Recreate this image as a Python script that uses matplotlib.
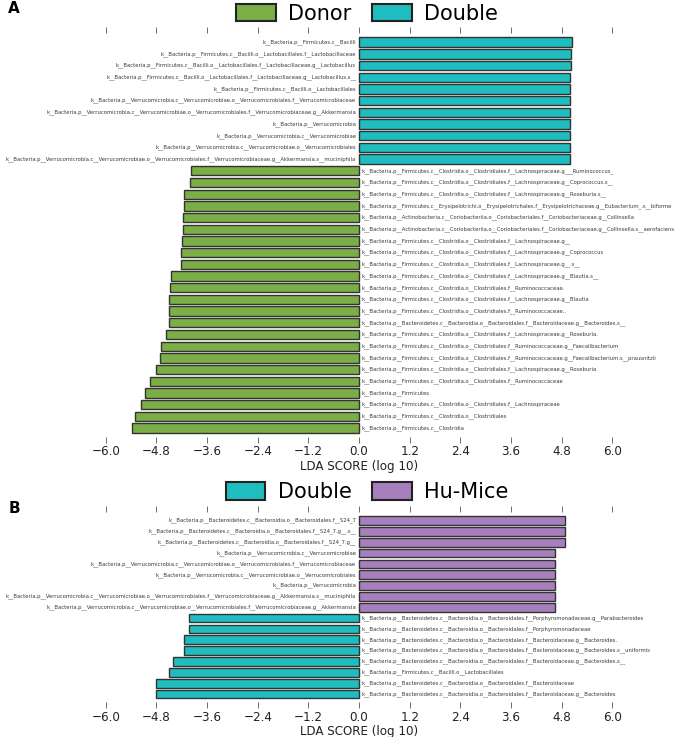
import matplotlib
matplotlib.use('Agg')
import matplotlib.pyplot as plt
from matplotlib.patches import Patch

# panel A, rows listed top to bottom
labelsA = ['k__Bacteria.p__Firmicutes.c__Bacilli',
           'k__Bacteria.p__Firmicutes.c__Bacilli.o__Lactobacillales.f__Lactobacillaceae',
           'k__Bacteria.p__Firmicutes.c__Bacilli.o__Lactobacillales.f__Lactobacillaceae.g__Lactobacillus',
           'k__Bacteria.p__Firmicutes.c__Bacilli.o__Lactobacillales.f__Lactobacillaceae.g__Lactobacillus.s__',
           'k__Bacteria.p__Firmicutes.c__Bacilli.o__Lactobacillales',
           'k__Bacteria.p__Verrucomicrobia.c__Verrucomicrobiae.o__Verrucomicrobiales.f__Verrucomicrobiaceae',
           'k__Bacteria.p__Verrucomicrobia.c__Verrucomicrobiae.o__Verrucomicrobiales.f__Verrucomicrobiaceae.g__Akkermansia',
           'k__Bacteria.p__Verrucomicrobia',
           'k__Bacteria.p__Verrucomicrobia.c__Verrucomicrobiae',
           'k__Bacteria.p__Verrucomicrobia.c__Verrucomicrobiae.o__Verrucomicrobiales',
           'k__Bacteria.p__Verrucomicrobia.c__Verrucomicrobiae.o__Verrucomicrobiales.f__Verrucomicrobiaceae.g__Akkermansia.s__muciniphila',
           'k__Bacteria.p__Firmicutes.c__Clostridia.o__Clostridiales.f__Lachnospiraceae.g___Ruminococcus_',
           'k__Bacteria.p__Firmicutes.c__Clostridia.o__Clostridiales.f__Lachnospiraceae.g__Coprococcus.s__',
           'k__Bacteria.p__Firmicutes.c__Clostridia.o__Clostridiales.f__Lachnospiraceae.g__Roseburia.s__',
           'k__Bacteria.p__Firmicutes.c__Erysipelotrichi.o__Erysipelotrichales.f__Erysipelotrichaceae.g__Eubacterium_.s__biforme',
           'k__Bacteria.p__Actinobacteria.c__Coriobacteriia.o__Coriobacteriales.f__Coriobacteriaceae.g__Collinsella',
           'k__Bacteria.p__Actinobacteria.c__Coriobacteriia.o__Coriobacteriales.f__Coriobacteriaceae.g__Collinsella.s__aerofaciens',
           'k__Bacteria.p__Firmicutes.c__Clostridia.o__Clostridiales.f__Lachnospiraceae.g__',
           'k__Bacteria.p__Firmicutes.c__Clostridia.o__Clostridiales.f__Lachnospiraceae.g__Coprococcus',
           'k__Bacteria.p__Firmicutes.c__Clostridia.o__Clostridiales.f__Lachnospiraceae.g__.s__',
           'k__Bacteria.p__Firmicutes.c__Clostridia.o__Clostridiales.f__Lachnospiraceae.g__Blautia.s__',
           'k__Bacteria.p__Firmicutes.c__Clostridia.o__Clostridiales.f__Ruminococcaceae.',
           'k__Bacteria.p__Firmicutes.c__Clostridia.o__Clostridiales.f__Lachnospiraceae.g__Blautia',
           'k__Bacteria.p__Firmicutes.c__Clostridia.o__Clostridiales.f__Ruminococcaceae..',
           'k__Bacteria.p__Bacteroidetes.c__Bacteroidia.o__Bacteroidales.f__Bacteroidaceae.g__Bacteroides.s__',
           'k__Bacteria.p__Firmicutes.c__Clostridia.o__Clostridiales.f__Lachnospiraceae.g__Roseburia.',
           'k__Bacteria.p__Firmicutes.c__Clostridia.o__Clostridiales.f__Ruminococcaceae.g__Faecalibacterium',
           'k__Bacteria.p__Firmicutes.c__Clostridia.o__Clostridiales.f__Ruminococcaceae.g__Faecalibacterium.s__prausnitzii',
           'k__Bacteria.p__Firmicutes.c__Clostridia.o__Clostridiales.f__Lachnospiraceae.g__Roseburia',
           'k__Bacteria.p__Firmicutes.c__Clostridia.o__Clostridiales.f__Ruminococcaceae',
           'k__Bacteria.p__Firmicutes',
           'k__Bacteria.p__Firmicutes.c__Clostridia.o__Clostridiales.f__Lachnospiraceae',
           'k__Bacteria.p__Firmicutes.c__Clostridia.o__Clostridiales',
           'k__Bacteria.p__Firmicutes.c__Clostridia']
ldaA = [5.05, 5.02, 5.02, 5.01, 5.00, 5.00, 4.99, 4.99, 4.99, 4.99, 4.99,
        -3.99, -4.01, -4.14, -4.15, -4.16, -4.18, -4.20, -4.22, -4.23,
        -4.46, -4.49, -4.50, -4.50, -4.51, -4.58, -4.69, -4.71, -4.80,
        -4.95, -5.07, -5.17, -5.32, -5.37]
groupsA = ['Donor', 'Double']

# panel B, rows listed top to bottom
labelsB = ['k__Bacteria.p__Bacteroidetes.c__Bacteroidia.o__Bacteroidales.f__S24_7',
           'k__Bacteria.p__Bacteroidetes.c__Bacteroidia.o__Bacteroidales.f__S24_7.g__.s__',
           'k__Bacteria.p__Bacteroidetes.c__Bacteroidia.o__Bacteroidales.f__S24_7.g__',
           'k__Bacteria.p__Verrucomicrobia.c__Verrucomicrobiae',
           'k__Bacteria.p__Verrucomicrobia.c__Verrucomicrobiae.o__Verrucomicrobiales.f__Verrucomicrobiaceae',
           'k__Bacteria.p__Verrucomicrobia.c__Verrucomicrobiae.o__Verrucomicrobiales',
           'k__Bacteria.p__Verrucomicrobia',
           'k__Bacteria.p__Verrucomicrobia.c__Verrucomicrobiae.o__Verrucomicrobiales.f__Verrucomicrobiaceae.g__Akkermansia.s__muciniphila',
           'k__Bacteria.p__Verrucomicrobia.c__Verrucomicrobiae.o__Verrucomicrobiales.f__Verrucomicrobiaceae.g__Akkermansia',
           'k__Bacteria.p__Bacteroidetes.c__Bacteroidia.o__Bacteroidales.f__Porphyromonadaceae.g__Parabacteroides',
           'k__Bacteria.p__Bacteroidetes.c__Bacteroidia.o__Bacteroidales.f__Porphyromonadaceae',
           'k__Bacteria.p__Bacteroidetes.c__Bacteroidia.o__Bacteroidales.f__Bacteroidaceae.g__Bacteroides.',
           'k__Bacteria.p__Bacteroidetes.c__Bacteroidia.o__Bacteroidales.f__Bacteroidaceae.g__Bacteroides.s__uniformis',
           'k__Bacteria.p__Bacteroidetes.c__Bacteroidia.o__Bacteroidales.f__Bacteroidaceae.g__Bacteroides.s__',
           'k__Bacteria.p__Firmicutes.c__Bacilli.o__Lactobacillales',
           'k__Bacteria.p__Bacteroidetes.c__Bacteroidia.o__Bacteroidales.f__Bacteroidaceae',
           'k__Bacteria.p__Bacteroidetes.c__Bacteroidia.o__Bacteroidales.f__Bacteroidaceae.g__Bacteroides']
ldaB = [4.89, 4.89, 4.89, 4.65, 4.65, 4.65, 4.65, 4.65, 4.65,
        -4.03, -4.03, -4.14, -4.14, -4.42, -4.51, -4.82, -4.82]
groupsB = ['Double', 'Hu-Mice']

colorDict = {'Donor': '#7bae46',
             'Double': '#1fbdbf',
             'Hu-Mice': '#a67fbc'}
ticks = [-6.0, -4.8, -3.6, -2.4, -1.2, 0.0, 1.2, 2.4, 3.6, 4.8, 6.0]


def draw_panel(fig, rect, labels, lda, groups, legend_y, letter, letter_y):
    ax = fig.add_axes(rect)
    n = len(labels)
    pos = list(range(n))
    cols = [colorDict[groups[1]] if v > 0 else colorDict[groups[0]] for v in lda]
    ax.barh(pos, lda, height=0.8, color=cols, edgecolor='#333333', linewidth=1.0)
    for y, v, lab in zip(pos, lda, labels):
        if v > 0:
            ax.text(-0.07, y, lab, ha='right', va='center', fontsize=4.25,
                    color='#3a3a3a', fontstretch='condensed')
        else:
            ax.text(0.07, y, lab, ha='left', va='center', fontsize=4.25,
                    color='#3a3a3a', fontstretch='condensed')
    ax.set_xlim(-6.3, 6.3)
    ax.set_ylim(n - 1 + 0.77, -0.77)
    ax.set_yticks([])
    ax.set_xticks(ticks)
    ax.set_xticklabels(['%.1f' % t if t >= 0 else '\u2212%.1f' % -t for t in ticks],
                       fontsize=9.5, color='#222222', fontstretch='condensed')
    ax.tick_params(axis='x', top=True, bottom=True, direction='out', length=4,
                   color='#555555', width=0.6, pad=2)
    for s in ax.spines.values():
        s.set_visible(False)
    ax.set_xlabel('LDA SCORE (log 10)', fontsize=9.5, color='#222222', labelpad=1,
                  fontstretch='condensed')
    handles = [Patch(facecolor=colorDict[g], edgecolor='#222222', linewidth=1.5) for g in groups]
    fig.legend(handles, groups, loc='center', bbox_to_anchor=(0.54, legend_y), ncol=2,
               frameon=False, fontsize=15, handlelength=1.9, handleheight=0.9,
               columnspacing=1.0, handletextpad=0.6)
    fig.text(0.012, letter_y, letter, fontsize=11, fontweight='bold', va='center')
    return ax


def main():
    fig = plt.figure(figsize=(6.8, 7.37), dpi=100)
    draw_panel(fig, [0.137, 0.407, 0.782, 0.548], labelsA, ldaA, groupsA, 0.981, 'A', 0.988)
    draw_panel(fig, [0.137, 0.047, 0.782, 0.258], labelsB, ldaB, groupsB, 0.332, 'B', 0.310)
    plt.savefig('out.png', dpi=100)


if __name__ == '__main__':
    main()
